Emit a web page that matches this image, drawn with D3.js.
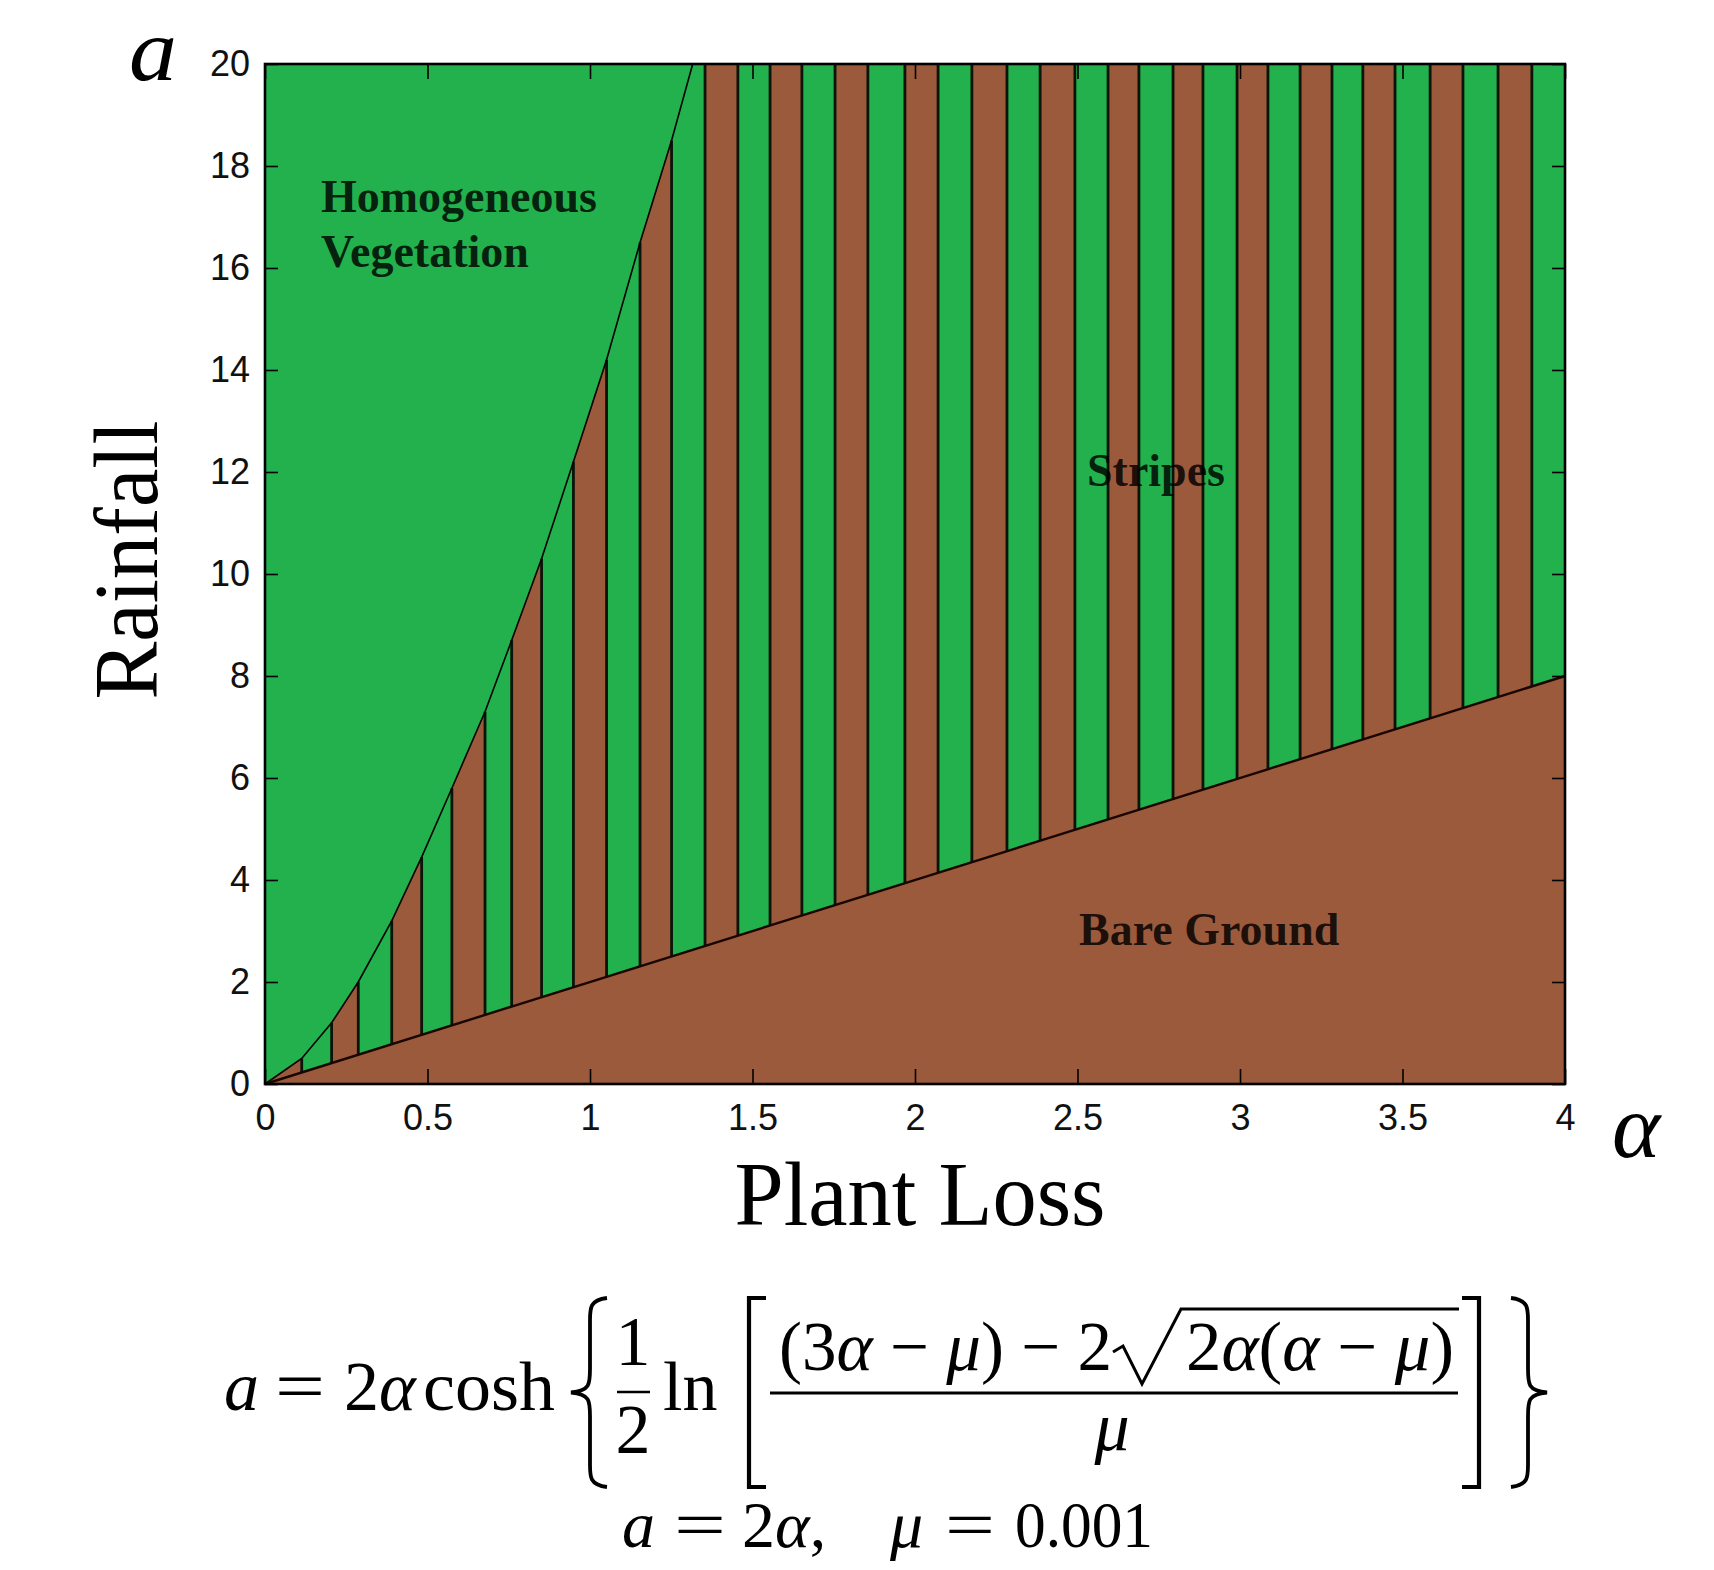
<!DOCTYPE html>
<html><head><meta charset="utf-8">
<script src="https://cdn.jsdelivr.net/npm/d3@7"></script>
<style>html,body{margin:0;padding:0;background:#fff;} svg{display:block}</style>
</head><body>
<svg id="chart" width="1714" height="1570"></svg>
<script>
// ---------------- data ----------------
const xTicks = [0, 0.5, 1, 1.5, 2, 2.5, 3, 3.5, 4];
const xTickLabels = ["0", "0.5", "1", "1.5", "2", "2.5", "3", "3.5", "4"];
const yTicks = [0, 2, 4, 6, 8, 10, 12, 14, 16, 18, 20];
const yTickLabels = ["0", "2", "4", "6", "8", "10", "12", "14", "16", "18", "20"];

// plant loss (alpha) positions of the vertical stripe edges
const stripeEdges = [0.113, 0.205, 0.287, 0.390, 0.482, 0.575, 0.677, 0.759, 0.851, 0.949,
  1.051, 1.154, 1.251, 1.354, 1.455, 1.554, 1.652, 1.754, 1.855, 1.969,
  2.071, 2.175, 2.283, 2.385, 2.492, 2.594, 2.689, 2.794, 2.886, 2.991,
  3.086, 3.185, 3.283, 3.378, 3.477, 3.585, 3.686, 3.794, 3.898];

// upper boundary (homogeneous vegetation / stripes)
const upperAlpha = [0, 0.113, 0.205, 0.287, 0.390, 0.482, 0.575, 0.677, 0.759, 0.851, 0.949, 1.051, 1.154, 1.251, 1.316];
const upperRain  = [0, 0.5, 1.2, 2.0, 3.2, 4.45, 5.8, 7.3, 8.7, 10.3, 12.2, 14.2, 16.5, 18.5, 20];

// lower boundary (stripes / bare ground)
const lowerAlpha = [0, 4];
const lowerRain  = [0, 8];

const regionNames = ["Homogeneous", "Vegetation", "Stripes", "Bare Ground"];

// ---------------- drawing ----------------
const GREEN = "#22B14C", BROWN = "#9C5A3C";
const svg = d3.select("#chart");
const L = 265, R = 1565, T = 64, B = 1084;
const x = d3.scaleLinear().domain([0, 4]).range([L, R]);
const y = d3.scaleLinear().domain([0, 20]).range([B, T]);
const upper = d3.scaleLinear().domain(upperAlpha).range(upperRain).clamp(true);
const lower = d3.scaleLinear().domain(lowerAlpha).range(lowerRain);

const line = d3.line().x(d => x(d[0])).y(d => y(d[1]));
const upperPts = d3.zip(upperAlpha, upperRain);
const lowerPts = d3.zip(lowerAlpha, lowerRain);

// background (homogeneous vegetation)
svg.append("rect").attr("x", L).attr("y", T).attr("width", R - L).attr("height", B - T).attr("fill", GREEN);

// bare ground
svg.append("path")
  .attr("d", line([...lowerPts, [4, 0]]) + "Z")
  .attr("fill", BROWN);

// stripe region clip
const stripePoly = [...lowerPts, [4, 20], ...upperPts.slice().reverse()];
svg.append("clipPath").attr("id", "stripeClip")
  .append("path").attr("d", line(stripePoly) + "Z");

const edges = [0, ...stripeEdges, 4];
const bands = d3.range(edges.length - 1).map(i => ({a0: edges[i], a1: edges[i + 1], bare: i % 2 === 0}));
svg.append("g").attr("clip-path", "url(#stripeClip)")
  .selectAll("rect").data(bands).join("rect")
  .attr("x", d => x(d.a0)).attr("width", d => x(d.a1) - x(d.a0))
  .attr("y", T).attr("height", B - T)
  .attr("fill", d => d.bare ? BROWN : GREEN);

// vertical stripe edges
svg.append("g").selectAll("line").data(stripeEdges).join("line")
  .attr("x1", d => x(d)).attr("x2", d => x(d))
  .attr("y1", d => y(lower(d))).attr("y2", d => y(upper(d)))
  .attr("stroke", "#0a140a").attr("stroke-width", 2.8);

// boundaries
svg.append("path").attr("d", line(upperPts)).attr("fill", "none")
  .attr("stroke", "#000").attr("stroke-width", 1.6);
svg.append("path").attr("d", line(lowerPts)).attr("fill", "none")
  .attr("stroke", "#1a0600").attr("stroke-width", 2.4);

// region labels
const lab = svg.append("g").attr("font-family", "'Liberation Serif','Times New Roman',serif")
  .attr("font-weight", "bold").attr("font-size", 46).attr("fill", "rgba(0,0,0,0.82)");
lab.append("text").attr("x", 321).attr("y", 212).text(regionNames[0]);
lab.append("text").attr("x", 321).attr("y", 267).text(regionNames[1]);
lab.append("text").attr("x", 1087).attr("y", 486).text(regionNames[2]);
lab.append("text").attr("x", 1079).attr("y", 945).text(regionNames[3]);

// axes
const tickFont = "'Liberation Sans',Arial,sans-serif";
const gx = svg.append("g").attr("transform", `translate(0,${B})`)
  .call(d3.axisBottom(x).tickValues(xTicks).tickFormat((d, i) => xTickLabels[i])
    .tickSizeInner(-15).tickSizeOuter(0).tickPadding(20));
const gy = svg.append("g").attr("transform", `translate(${L},0)`)
  .call(d3.axisLeft(y).tickValues(yTicks).tickFormat((d, i) => yTickLabels[i])
    .tickSizeInner(-13).tickSizeOuter(0).tickPadding(15));
const gt = svg.append("g").attr("transform", `translate(0,${T})`)
  .call(d3.axisTop(x).tickValues(xTicks).tickFormat("").tickSizeInner(-15).tickSizeOuter(0));
const gr = svg.append("g").attr("transform", `translate(${R},0)`)
  .call(d3.axisRight(y).tickValues(yTicks).tickFormat("").tickSizeInner(-13).tickSizeOuter(0));
[gx, gy, gt, gr].forEach(g => {
  g.select(".domain").remove();
  g.selectAll(".tick line").attr("stroke", "#000").attr("stroke-width", 1.6);
  g.selectAll(".tick text").attr("font-family", tickFont).attr("font-size", 36).attr("fill", "#111");
});

// frame
svg.append("rect").attr("x", L).attr("y", T).attr("width", R - L).attr("height", B - T)
  .attr("fill", "none").attr("stroke", "#000").attr("stroke-width", 2.6);

// axis titles
const serif = "'Liberation Serif','Times New Roman',serif";
svg.append("text").attr("x", 129).attr("y", 80).attr("font-family", serif).attr("font-style", "italic")
  .attr("font-size", 89).attr("textLength", 48).attr("lengthAdjust", "spacingAndGlyphs")
  .attr("fill", "#000").text("a");
svg.append("text").attr("x", 1612).attr("y", 1157).attr("font-family", serif).attr("font-style", "italic")
  .attr("font-size", 92).attr("fill", "#000").text("α");
svg.append("text").attr("transform", "translate(157,560) rotate(-90)").attr("text-anchor", "middle")
  .attr("font-family", serif).attr("font-size", 92).attr("textLength", 279).attr("lengthAdjust", "spacingAndGlyphs")
  .attr("fill", "#000").text("Rainfall");
svg.append("text").attr("x", 920).attr("y", 1225).attr("text-anchor", "middle")
  .attr("font-family", serif).attr("font-size", 92).attr("textLength", 371).attr("lengthAdjust", "spacingAndGlyphs")
  .attr("fill", "#000").text("Plant Loss");

// ---------------- equation ----------------
const eq = svg.append("g").attr("font-family", serif).attr("fill", "#000").attr("font-size", 70);
function t(xp, yp, parts, opts = {}) {
  const el = eq.append("text").attr("x", xp).attr("y", yp);
  if (opts.anchor) el.attr("text-anchor", opts.anchor);
  if (opts.size) el.attr("font-size", opts.size);
  if (opts.len) el.attr("textLength", opts.len).attr("lengthAdjust", "spacingAndGlyphs");
  parts.forEach(p => {
    const ts = el.append("tspan").text(p[0]);
    if (p[1]) ts.attr("font-style", "italic");
  });
  return el;
}
const base = 1410;
t(224, base, [["a", 1]]);
t(300, base, [["="]], {anchor: "middle", len: 50});
t(344, base, [["2"], ["α", 1]]);
t(423, base, [["cosh"]], {len: 132});
t(633, 1365, [["1"]], {anchor: "middle"});
t(633, 1453, [["2"]], {anchor: "middle"});
t(663, base, [["ln"]]);
t(779, 1370, [["("], ["3"], ["α", 1], [" − "], ["μ", 1], [")"], [" − 2"]], {len: 333});
t(1186, 1370, [["2"], ["α", 1], ["("], ["α", 1], [" − "], ["μ", 1], [")"]], {len: 268});
t(1112, 1450, [["μ", 1]], {anchor: "middle"});

function p(d, w) { eq.append("path").attr("d", d).attr("stroke", "#000").attr("fill", "none").attr("stroke-width", w); }
// small fraction bar
p("M617,1392H650", 2.6);
// big fraction bar
p("M770,1393H1458", 3);
// sqrt sign
p("M1113,1352L1123,1346L1142,1384L1181,1309H1459", 3);
// brackets
p("M766,1298H749V1487H766", 4.2);
p("M1462,1298H1479V1487H1462", 4.2);
// braces
function brace(tip, xi, y0, y1, dir) {
  const ym = (y0 + y1) / 2;
  const end = dir < 0 ? xi + 17 : xi - 17;
  return `M${end},${y0} C${xi},${y0 + 2} ${xi},${y0 + 10} ${xi},${y0 + 22} ` +
    `V${ym - 24} C${xi},${ym - 8} ${xi},${ym - 2} ${tip},${ym} ` +
    `C${xi},${ym + 2} ${xi},${ym + 8} ${xi},${ym + 24} ` +
    `V${y1 - 22} C${xi},${y1 - 10} ${xi},${y1 - 2} ${end},${y1}`;
}
p(brace(571, 590, 1298, 1487, -1), 3.8);
p(brace(1547, 1528, 1298, 1487, 1), 3.8);

// second line
const b2 = 1547, s2 = 66;
t(622, b2, [["a", 1]], {size: s2});
t(700, b2, [["="]], {anchor: "middle", size: s2, len: 52});
t(742, b2, [["2"], ["α", 1], [","]], {size: s2});
t(890, b2, [["μ", 1]], {size: s2});
t(970, b2, [["="]], {anchor: "middle", size: s2, len: 50});
t(1015, b2, [["0.001"]], {size: s2, len: 138});
</script>
</body></html>
